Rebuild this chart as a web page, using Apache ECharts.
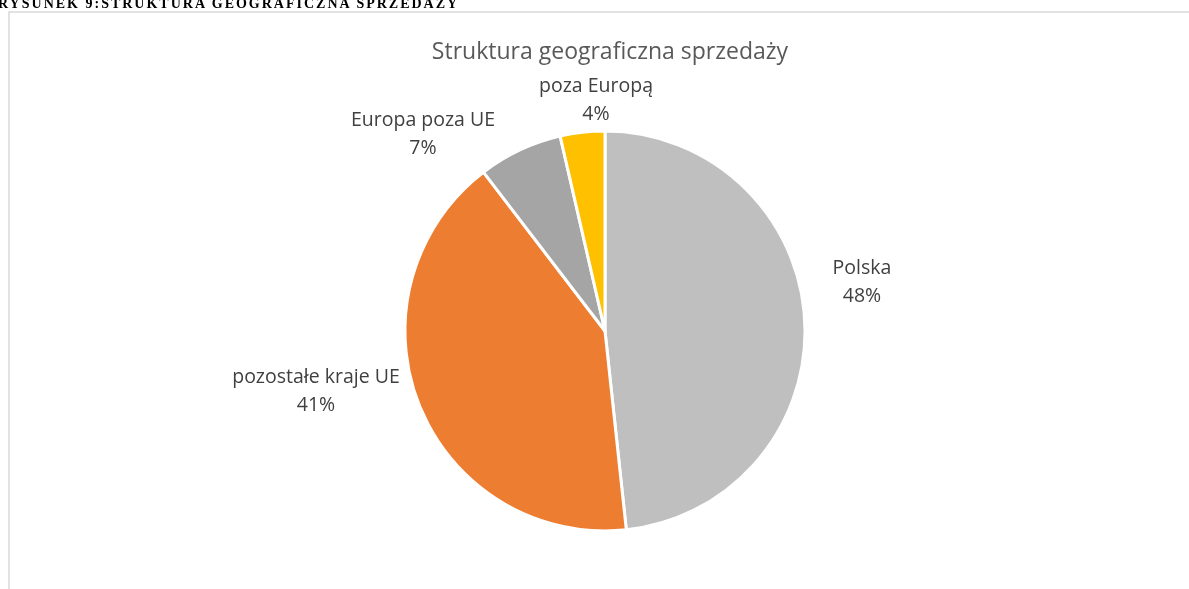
<!DOCTYPE html>
<html>
<head>
<meta charset="utf-8">
<script src="https://cdn.jsdelivr.net/npm/echarts@6/dist/echarts.min.js"></script>
<style>
html,body{margin:0;padding:0;background:#fff;overflow:hidden;}
#hdr{position:absolute;left:-2px;top:-3px;line-height:14px;font-family:"Liberation Serif","DejaVu Serif",serif;font-weight:bold;font-size:14px;letter-spacing:2px;color:#000;white-space:nowrap;z-index:2;}
#chart{position:absolute;left:0;top:0;width:1189px;height:589px;}
</style>
</head>
<body>
<div id="hdr">RYSUNEK 9:STRUKTURA GEOGRAFICZNA SPRZEDAŻY</div>
<div id="chart"></div>
<script>
const chartTitle = 'Struktura geograficzna sprzedaży';
const categories = ['Polska', 'pozostałe kraje UE', 'Europa poza UE', 'poza Europą'];
const values = [48.3, 41.3, 6.8, 3.6];
const colors = ['#bfbfbf', '#ed7d31', '#a5a5a5', '#ffc000'];
const labelPositions = [[862, 282], [316, 391], [423, 134], [596, 100]];

const chart = echarts.init(document.getElementById('chart'), null, {renderer: 'canvas'});
chart.setOption({
  animation: false,
  backgroundColor: '#ffffff',
  title: {
    text: chartTitle,
    left: 605,
    top: 36,
    textAlign: 'center',
    textStyle: {fontFamily: 'Open Sans', fontSize: 23, fontWeight: 'normal', color: '#595959'}
  },
  graphic: [{
    type: 'rect',
    shape: {x: 9, y: 12, width: 1300, height: 700},
    style: {fill: 'none', stroke: '#d9d9d9', lineWidth: 1.5},
    silent: true
  }],
  series: [{
    type: 'pie',
    center: [605, 331],
    radius: [0, 200],
    startAngle: 90,
    clockwise: true,
    percentPrecision: 0,
    itemStyle: {borderColor: '#ffffff', borderWidth: 3},
    label: {
      show: true,
      position: 'outside',
      formatter: '{b}\n{d}%',
      fontFamily: 'Open Sans',
      fontSize: 19.5,
      lineHeight: 28,
      color: '#404040',
      align: 'center'
    },
    labelLine: {show: false},
    labelLayout: function (p) {
      const pos = labelPositions[p.dataIndex];
      return {x: pos[0], y: pos[1], align: 'center', verticalAlign: 'middle'};
    },
    data: categories.map((c, i) => ({name: c, value: values[i], itemStyle: {color: colors[i]}}))
  }]
});
</script>
</body>
</html>
